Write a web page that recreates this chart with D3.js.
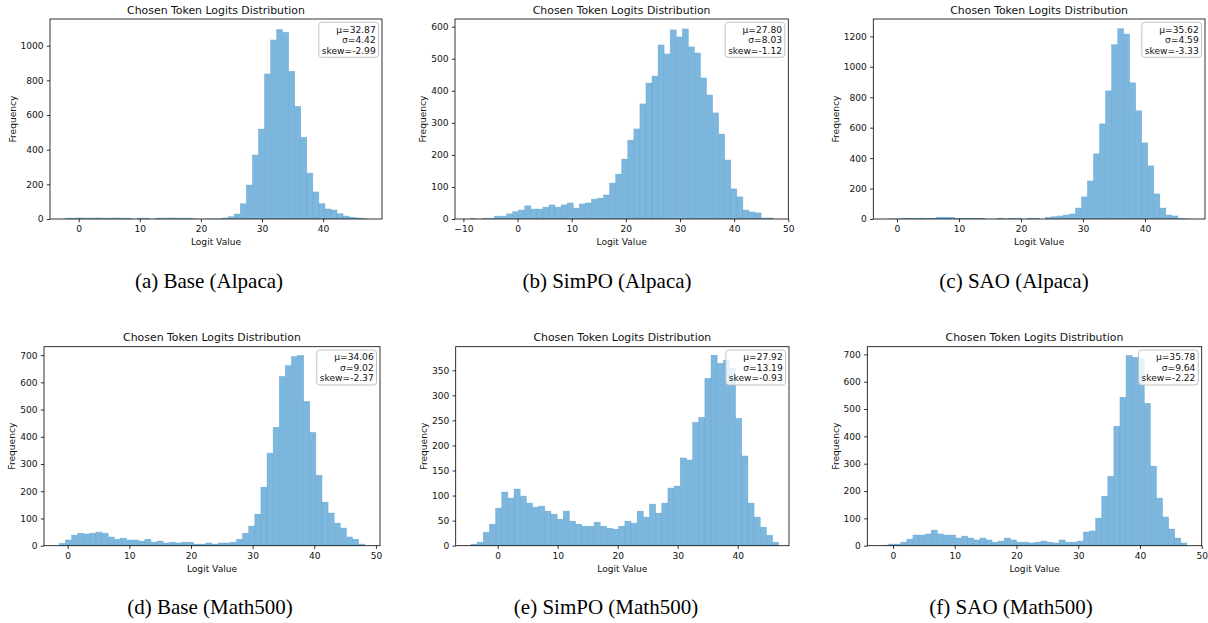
<!DOCTYPE html>
<html>
<head>
<meta charset="utf-8">
<script src="https://cdn.jsdelivr.net/npm/d3@7"></script>
<style>
  body { margin: 0; background: #fff; }
  svg { display: block; }
  .tick text { font-family: "DejaVu Sans", sans-serif; }
</style>
</head>
<body>
<svg id="chart" width="1208" height="623"></svg>
<script>
// histogram counts, 50 bins per panel
var baseAlpacaCounts = [5, 5, 6, 5, 5, 6, 5, 5, 6, 5, 5, 0, 5, 5, 0, 5, 5, 6, 5, 5,
  5, 1, 0, 1, 1, 1, 6, 13, 29, 88, 196, 369, 519, 837, 1033, 1093, 1077, 852, 650, 471,
  265, 156, 88, 58, 52, 31, 17, 10, 6, 2];
var simpoAlpacaCounts = [1, 0, 1, 2, 9, 9, 16, 23, 28, 41, 31, 31, 37, 44, 37, 44, 50, 34, 47, 50,
  62, 65, 75, 112, 140, 187, 246, 281, 359, 424, 446, 543, 515, 590, 568, 593, 537, 518, 440, 387,
  331, 265, 184, 94, 69, 28, 22, 19, 3, 3];
var saoAlpacaCounts = [1, 1, 5, 5, 5, 6, 5, 5, 12, 12, 11, 5, 5, 5, 5, 5, 0, 0, 5, 1,
  5, 5, 0, 5, 5, 0, 11, 15, 20, 26, 33, 72, 145, 250, 428, 625, 842, 1145, 1250, 1215,
  895, 711, 500, 349, 165, 72, 26, 20, 2, 1];
var baseMathCounts = [9, 21, 39, 46, 43, 46, 50, 46, 32, 24, 28, 21, 21, 17, 24, 13, 17, 10, 13, 10,
  13, 13, 6, 6, 10, 6, 10, 10, 13, 24, 46, 72, 116, 215, 340, 435, 622, 662, 695, 699,
  530, 416, 259, 160, 120, 83, 65, 32, 24, 6];
var simpoMathCounts = [3, 7, 27, 43, 75, 107, 95, 113, 99, 85, 77, 79, 69, 63, 53, 69, 49, 43, 39, 39,
  47, 39, 35, 33, 39, 49, 45, 69, 57, 83, 65, 85, 115, 119, 175, 171, 246, 256, 334, 380,
  364, 370, 354, 254, 179, 85, 57, 37, 21, 7];
var saoMathCounts = [2, 6, 6, 13, 24, 39, 39, 43, 57, 43, 39, 39, 28, 35, 28, 21, 28, 21, 13, 17,
  28, 21, 13, 13, 10, 13, 17, 13, 10, 21, 13, 13, 17, 50, 54, 101, 181, 254, 437, 543,
  696, 689, 685, 521, 291, 174, 105, 61, 28, 10];

// first bin edge and bin width (logit units)
var binStarts = [-2.23, -8.74, -1.39, -1.36, -4.46, -1.70];
var binWidths = [0.989, 1.119, 0.973, 0.991, 1.026, 0.986];

var xDomains = [[-4.70, 49.64], [-11.55, 50.0], [-3.82, 49.68], [-3.84, 50.66], [-7.0, 48.55], [-4.16, 49.99]];
var yMaxes = [1154, 624, 1314, 731, 397, 728];

var xTickValues = [
  [0, 10, 20, 30, 40],
  [-10, 0, 10, 20, 30, 40, 50],
  [0, 10, 20, 30, 40],
  [0, 10, 20, 30, 40, 50],
  [0, 10, 20, 30, 40],
  [0, 10, 20, 30, 40, 50]
];
var yTickValues = [
  [0, 200, 400, 600, 800, 1000],
  [0, 100, 200, 300, 400, 500, 600],
  [0, 200, 400, 600, 800, 1000, 1200],
  [0, 100, 200, 300, 400, 500, 600, 700],
  [0, 50, 100, 150, 200, 250, 300, 350],
  [0, 100, 200, 300, 400, 500, 600, 700]
];

var statMeans = ['32.87', '27.80', '35.62', '34.06', '27.92', '35.78'];
var statSigmas = ['4.42', '8.03', '4.59', '9.02', '13.19', '9.64'];
var statSkews = ['-2.99', '-1.12', '-3.33', '-2.37', '-0.93', '-2.22'];

var captions = ['(a) Base (Alpaca)', '(b) SimPO (Alpaca)', '(c) SAO (Alpaca)',
  '(d) Base (Math500)', '(e) SimPO (Math500)', '(f) SAO (Math500)'];

var panelTitle = 'Chosen Token Logits Distribution';
var xLabel = 'Logit Value';
var yLabel = 'Frequency';

var allCounts = [baseAlpacaCounts, simpoAlpacaCounts, saoAlpacaCounts,
  baseMathCounts, simpoMathCounts, saoMathCounts];

// axes boxes in page pixels
var layout = [
  { left: 50, top: 19, width: 332, height: 200, capX: 209, capY: 288 },
  { left: 455, top: 19, width: 333.3, height: 200, capX: 607, capY: 288 },
  { left: 873.3, top: 19, width: 331.7, height: 200, capX: 1014, capY: 288 },
  { left: 44, top: 346.7, width: 336, height: 199, capX: 210, capY: 614 },
  { left: 455.7, top: 346.7, width: 333.3, height: 199, capX: 606, capY: 614 },
  { left: 867.3, top: 346.7, width: 334.4, height: 199, capX: 1011, capY: 614 }
];

var sansFont = '"DejaVu Sans", sans-serif';
var serifFont = '"Liberation Serif", "Times New Roman", serif';
var barFill = '#7eb7dd';
var barEdge = '#5d9fcf';
var tickFontSize = 9.1;

var svg = d3.select('#chart');

layout.forEach(function(box, p) {
  var counts = allCounts[p];
  var bins = counts.map(function(c, i) {
    var x0 = binStarts[p] + binWidths[p] * i;
    return { x0: x0, x1: x0 + binWidths[p], count: c };
  });

  var x = d3.scaleLinear().domain(xDomains[p]).range([0, box.width]);
  var y = d3.scaleLinear().domain([0, yMaxes[p]]).range([box.height, 0]);

  var g = svg.append('g').attr('transform', 'translate(' + box.left + ',' + box.top + ')');

  var clipId = 'clip' + p;
  g.append('clipPath').attr('id', clipId)
    .append('rect').attr('width', box.width).attr('height', box.height);

  g.append('g').attr('clip-path', 'url(#' + clipId + ')')
    .selectAll('rect').data(bins).enter().append('rect')
    .attr('x', function(d) { return x(d.x0); })
    .attr('y', function(d) { return y(d.count); })
    .attr('width', function(d) { return x(d.x1) - x(d.x0); })
    .attr('height', function(d) { return y(0) - y(d.count); })
    .attr('fill', barFill)
    .attr('stroke', barEdge)
    .attr('stroke-width', 0.5)
    .attr('stroke-opacity', 0.7);

  var xAxis = g.append('g').attr('transform', 'translate(0,' + box.height + ')')
    .call(d3.axisBottom(x).tickValues(xTickValues[p]).tickSize(3.2).tickPadding(3.2).tickFormat(d3.format('d')));
  var yAxis = g.append('g')
    .call(d3.axisLeft(y).tickValues(yTickValues[p]).tickSize(3.2).tickPadding(3.2).tickFormat(d3.format('d')));

  [xAxis, yAxis].forEach(function(ax) {
    ax.select('.domain').remove();
    ax.attr('font-size', tickFontSize).attr('font-family', sansFont);
    ax.selectAll('.tick line').attr('stroke', '#000').attr('stroke-width', 0.8);
    ax.selectAll('.tick text').attr('fill', '#111');
  });

  // frame
  g.append('rect')
    .attr('width', box.width).attr('height', box.height)
    .attr('fill', 'none').attr('stroke', '#000').attr('stroke-width', 0.8);

  g.append('text')
    .attr('x', box.width / 2).attr('y', -5.5)
    .attr('text-anchor', 'middle')
    .attr('font-family', sansFont).attr('font-size', 10.9).attr('fill', '#111')
    .text(panelTitle);

  g.append('text')
    .attr('x', box.width / 2).attr('y', box.height + 26)
    .attr('text-anchor', 'middle')
    .attr('font-family', sansFont).attr('font-size', tickFontSize).attr('fill', '#111')
    .text(xLabel);

  var maxTickWidth = 0;
  yAxis.selectAll('.tick text').each(function() {
    maxTickWidth = Math.max(maxTickWidth, this.getComputedTextLength());
  });
  g.append('text')
    .attr('transform', 'translate(' + (-(maxTickWidth + 14.4)) + ',' + (box.height / 2) + ') rotate(-90)')
    .attr('dy', '0.35em')
    .attr('text-anchor', 'middle')
    .attr('font-family', sansFont).attr('font-size', tickFontSize).attr('fill', '#111')
    .text(yLabel);

  // stats box, top right
  var statLines = ['\u03bc=' + statMeans[p], '\u03c3=' + statSigmas[p], 'skew=' + statSkews[p]];
  var legend = g.append('g');
  var legendBg = legend.append('rect');
  var textRight = box.width - 6.3;
  var widest = 0;
  statLines.forEach(function(s, k) {
    var t = legend.append('text')
      .attr('x', textRight).attr('y', 13.5 + k * 10.5)
      .attr('text-anchor', 'end')
      .attr('font-family', sansFont).attr('font-size', tickFontSize).attr('fill', '#111')
      .text(s);
    widest = Math.max(widest, t.node().getComputedTextLength());
  });
  var bgLeft = textRight - widest - 3;
  legendBg
    .attr('x', bgLeft).attr('y', 3.3)
    .attr('width', box.width - 3.5 - bgLeft).attr('height', 35)
    .attr('rx', 3).attr('ry', 3)
    .attr('fill', '#fff').attr('fill-opacity', 0.8)
    .attr('stroke', '#bbb').attr('stroke-width', 0.9);

  svg.append('text')
    .attr('x', box.capX).attr('y', box.capY)
    .attr('text-anchor', 'middle')
    .attr('font-family', serifFont).attr('font-size', 21)
    .attr('fill', '#000')
    .text(captions[p]);
});
</script>
</body>
</html>
